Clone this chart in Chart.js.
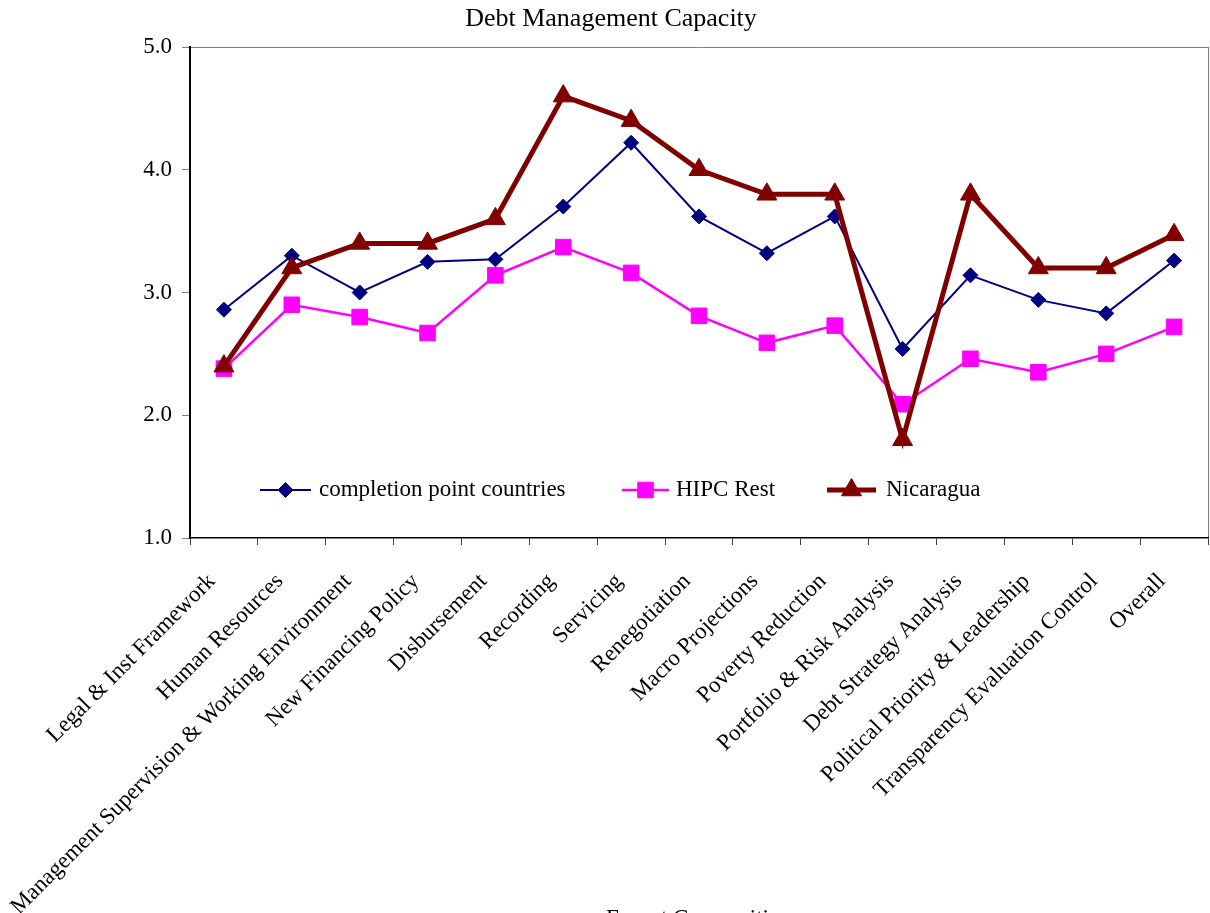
<!DOCTYPE html>
<html><head><meta charset="utf-8">
<script src="https://cdn.jsdelivr.net/npm/chart.js@4.4.0/dist/chart.umd.min.js"></script>
<style>html,body{margin:0;padding:0;overflow:hidden;background:#fff}canvas{display:block}</style>
</head><body>
<canvas id="c" width="1210" height="940" style="width:1210px;height:940px"></canvas>
<script>
const categories = [
  'Legal & Inst Framework', 'Human Resources', 'Management Supervision & Working Environment',
  'New Financing Policy', 'Disbursement', 'Recording', 'Servicing', 'Renegotiation',
  'Macro Projections', 'Poverty Reduction', 'Portfolio & Risk Analysis', 'Debt Strategy Analysis',
  'Political Priority & Leadership', 'Transparency Evaluation Control', 'Overall'
];
const completionPoint = [2.86, 3.30, 3.00, 3.25, 3.27, 3.70, 4.22, 3.62, 3.32, 3.62, 2.54, 3.14, 2.94, 2.83, 3.26];
const hipcRest       = [2.38, 2.90, 2.80, 2.67, 3.14, 3.37, 3.16, 2.81, 2.59, 2.73, 2.09, 2.46, 2.35, 2.50, 2.72];
const nicaragua      = [2.4, 3.2, 3.4, 3.4, 3.6, 4.6, 4.4, 4.0, 3.8, 3.8, 1.8, 3.8, 3.2, 3.2, 3.47];
const seriesNames = ['completion point countries', 'HIPC Rest', 'Nicaragua'];
const yTickValues = [1, 2, 3, 4, 5];
const chartTitle = 'Debt Management Capacity';
const xAxisTitle = 'Expert Composition';

const FONT = 'Liberation Serif, Times New Roman, serif';
const GRAY = '#808080';

const legendLayout = [
  {x1: 260, x2: 311, tx: 319},
  {x1: 622, x2: 669, tx: 676},
  {x1: 827, x2: 876, tx: 886}
];
const legendY = 490;

function drawMarker(ctx, style, r, x, y) {
  if (style === 'rectRot') {
    ctx.moveTo(x, y - r); ctx.lineTo(x + r, y); ctx.lineTo(x, y + r); ctx.lineTo(x - r, y); ctx.closePath();
  } else if (style === 'rect') {
    const s = r * Math.SQRT1_2; ctx.rect(x - s, y - s, 2 * s, 2 * s);
  } else {
    const a = 2 * Math.PI / 3;
    ctx.moveTo(x, y - r);
    ctx.lineTo(x + Math.sin(a) * r, y - Math.cos(a) * r);
    ctx.lineTo(x + Math.sin(2 * a) * r, y - Math.cos(2 * a) * r);
    ctx.closePath();
  }
}

const insideLegend = {
  id: 'insideLegend',
  afterDatasetsDraw(chart) {
    const ctx = chart.ctx;
    ctx.save();
    chart.data.datasets.forEach((ds, i) => {
      const L = legendLayout[i];
      ctx.strokeStyle = ds.borderColor;
      ctx.lineWidth = ds.borderWidth;
      ctx.beginPath();
      ctx.moveTo(L.x1, legendY);
      ctx.lineTo(L.x2, legendY);
      ctx.stroke();
      const mx = (L.x1 + L.x2) / 2;
      ctx.fillStyle = ds.pointBackgroundColor;
      ctx.strokeStyle = ds.pointBorderColor;
      ctx.lineWidth = ds.pointBorderWidth;
      ctx.beginPath();
      drawMarker(ctx, ds.pointStyle, ds.pointRadius, mx, legendY);
      ctx.fill();
      ctx.stroke();
      ctx.fillStyle = '#000';
      ctx.font = '23px ' + FONT;
      ctx.textAlign = 'left';
      ctx.textBaseline = 'middle';
      ctx.fillText(ds.label, L.tx, legendY);
    });
    ctx.restore();
  }
};

new Chart(document.getElementById('c'), {
  type: 'line',
  data: {
    labels: categories,
    datasets: [
      {label: seriesNames[0], data: completionPoint, borderColor: '#000080', backgroundColor: '#000080',
       borderWidth: 2, pointStyle: 'rectRot', pointRadius: 7.5, pointBorderWidth: 1,
       pointBackgroundColor: '#000080', pointBorderColor: '#000080', order: 2, tension: 0},
      {label: seriesNames[1], data: hipcRest, borderColor: '#FF00FF', backgroundColor: '#FF00FF',
       borderWidth: 2.5, pointStyle: 'rect', pointRadius: 11, pointBorderWidth: 1,
       pointBackgroundColor: '#FF00FF', pointBorderColor: '#FF00FF', order: 1, tension: 0},
      {label: seriesNames[2], data: nicaragua, borderColor: '#800000', backgroundColor: '#800000',
       borderWidth: 5, pointStyle: 'triangle', pointRadius: 11.5, pointBorderWidth: 1,
       pointBackgroundColor: '#800000', pointBorderColor: '#800000', order: 0, tension: 0}
    ]
  },
  options: {
    responsive: false,
    animation: false,
    devicePixelRatio: 1,
    layout: {autoPadding: false, padding: {left: 14, right: 2, top: 0, bottom: 0}},
    plugins: {
      legend: {display: false},
      tooltip: {enabled: false},
      title: {display: true, text: chartTitle, color: '#000',
              font: {family: FONT, size: 26, weight: 'normal'}, padding: {top: 3.4, bottom: 12.4}}
    },
    scales: {
      x: {
        offset: true,
        afterFit(scale) { scale.height = 940 - 538; scale.paddingRight = 0; scale.paddingLeft = 0; },
        grid: {display: true, drawOnChartArea: true, drawTicks: true, tickLength: 7, offset: true,
               color: (c) => c.type === 'tick' ? 'rgba(0,0,0,0)' : GRAY, tickColor: '#404040', lineWidth: 1},
        border: {display: true, color: '#000', width: 1.5},
        ticks: {color: '#000', font: {family: FONT, size: 23}, minRotation: 45, maxRotation: 45,
                padding: 23, labelOffset: -12, autoSkip: false},
        title: {display: true, text: xAxisTitle, color: '#000', font: {family: FONT, size: 23},
                padding: {top: 0, bottom: 7}}
      },
      y: {
        min: 1, max: 5,
        afterFit(scale) { scale.width = 176; },
        afterBuildTicks(scale) { scale.ticks = yTickValues.map(v => ({value: v})); },
        grid: {display: true, drawOnChartArea: true, drawTicks: true, tickLength: 8,
               color: (c) => (c.tick && c.tick.value === 5) ? GRAY : 'rgba(0,0,0,0)', tickColor: GRAY},
        border: {display: true, color: '#000', width: 2},
        ticks: {color: '#000', font: {family: FONT, size: 23}, padding: 10,
                callback: (v) => Number(v).toFixed(1)}
      }
    }
  },
  plugins: [insideLegend]
});
</script>
</body></html>
